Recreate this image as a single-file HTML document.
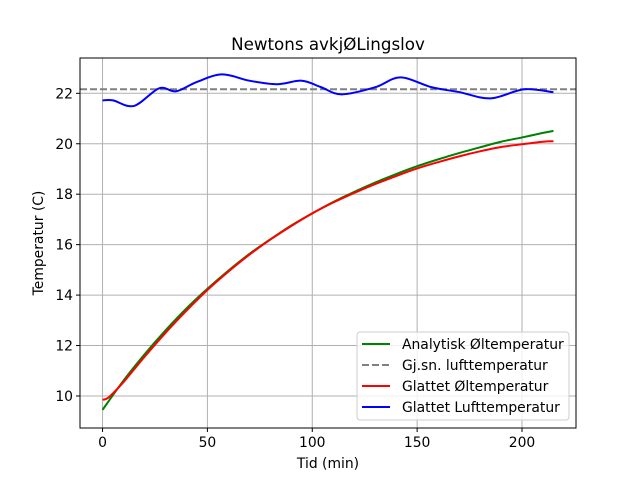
<!DOCTYPE html>
<html><head><meta charset="utf-8"><style>
body{margin:0;background:#fff}
svg text{font-family:"DejaVu Sans","Liberation Sans",sans-serif}
</style></head><body>
<svg id="chart" width="640" height="480" xmlns="http://www.w3.org/2000/svg">
<rect width="640" height="480" fill="#fff"/>
<g id="grid"></g>
<g id="series"></g>
<rect x="80" y="58" width="496" height="370" fill="none" stroke="#000" stroke-width="1"/>
<g id="ticks"></g>
<text x="328" y="50" text-anchor="middle" font-size="16.7">Newtons avkjØLingslov</text>
<text x="328" y="468" text-anchor="middle" font-size="13.9">Tid (min)</text>
<text x="43" y="243" text-anchor="middle" font-size="13.9" transform="rotate(-90 43 243)">Temperatur (C)</text>
<g>
<rect x="357" y="332" width="212" height="88" rx="3" fill="#fff" fill-opacity="0.8" stroke="#ccc"/>
<g><line x1="362" y1="344" x2="390" y2="344" stroke="green" stroke-width="2"/><text x="402" y="349" font-size="13.9">Analytisk Øltemperatur</text></g>
<g><line x1="362" y1="365" x2="390" y2="365" stroke="gray" stroke-width="2" stroke-dasharray="7,3"/><text x="402" y="370" font-size="13.9">Gj.sn. lufttemperatur</text></g>
<g><line x1="362" y1="386" x2="390" y2="386" stroke="red" stroke-width="2"/><text x="402" y="391" font-size="13.9">Glattet Øltemperatur</text></g>
<g><line x1="362" y1="407" x2="390" y2="407" stroke="blue" stroke-width="2"/><text x="402" y="412" font-size="13.9">Glattet Lufttemperatur</text></g>
</g>
</svg>
<script>
const xTicks=[0,50,100,150,200];
const yTicks=[10,12,14,16,18,20,22];
const curveT=[0,10,20,30,40,50,60,70,80,90,100,110,120,130,140,150,160,170,180,190,200,210,215];
const analytic=[9.45,10.61,11.65,12.60,13.47,14.25,14.97,15.63,16.21,16.76,17.24,17.69,18.09,18.46,18.80,19.11,19.38,19.63,19.86,20.08,20.25,20.43,20.51];
const redT=[0,3,10,20,30,40,50,60,70,80,90,100,110,120,130,140,150,160,170,180,190,200,210,215];
const redV=[9.85,9.95,10.55,11.55,12.5,13.38,14.2,14.93,15.6,16.2,16.74,17.24,17.67,18.05,18.4,18.72,19.02,19.27,19.5,19.7,19.87,19.98,20.08,20.1];
const blueT=[0,5,15,27,35,45,57,70,83,95,104,114,130,142,157,170,185,201,215];
const blueV=[21.72,21.72,21.5,22.2,22.08,22.45,22.75,22.5,22.36,22.5,22.25,21.96,22.24,22.63,22.24,22.05,21.8,22.16,22.04];
const meanAir=22.16;
const xMin=-10.75,xMax=225.75,yMin=8.73,yMax=23.4;
const L=80,R=576,T=58,B=428;
const sx=v=>L+(v-xMin)/(xMax-xMin)*(R-L);
const sy=v=>B-(v-yMin)/(yMax-yMin)*(B-T);
const NS="http://www.w3.org/2000/svg";
function mk(tag,attrs,parent){const e=document.createElementNS(NS,tag);for(const k in attrs)e.setAttribute(k,attrs[k]);document.getElementById(parent).appendChild(e);return e;}
xTicks.forEach(v=>{
 const g=mk('line',{x1:sx(v),x2:sx(v),y1:T,y2:B,stroke:'#b0b0b0','stroke-width':1},'grid');
 
 
 const t=mk('line',{x1:sx(v),x2:sx(v),y1:B,y2:B+4,stroke:'#000'},'ticks');
 
 
 const l=mk('text',{x:sx(v),y:B+19,'text-anchor':'middle','font-size':13.9},'ticks');l.textContent=v;
 
 
});
yTicks.forEach(v=>{
 const g=mk('line',{x1:L,x2:R,y1:sy(v),y2:sy(v),stroke:'#b0b0b0','stroke-width':1},'grid');
 
 
 const t=mk('line',{x1:L-4,x2:L,y1:sy(v),y2:sy(v),stroke:'#000'},'ticks');
 
 
 const l=mk('text',{x:L-7,y:sy(v)+5,'text-anchor':'end','font-size':13.9},'ticks');l.textContent=v;
 
 
});
function smooth(ts,vs){
 const p=ts.map((t,i)=>[sx(t),sy(vs[i])]);
 let d=`M${p[0][0]},${p[0][1]}`;
 for(let i=0;i<p.length-1;i++){
  const p0=p[Math.max(0,i-1)],p1=p[i],p2=p[i+1],p3=p[Math.min(p.length-1,i+2)];
  d+=` C${p1[0]+(p2[0]-p0[0])/6},${p1[1]+(p2[1]-p0[1])/6} ${p2[0]-(p3[0]-p1[0])/6},${p2[1]-(p3[1]-p1[1])/6} ${p2[0]},${p2[1]}`;
 }
 return d;
}
const g1=mk('path',{d:smooth(curveT,analytic),fill:'none',stroke:'green','stroke-width':2},'series');


const m=mk('line',{x1:L,x2:R,y1:sy(meanAir),y2:sy(meanAir),stroke:'gray','stroke-width':2,'stroke-dasharray':'7,3'},'series');


const r1=mk('path',{d:smooth(redT,redV),fill:'none',stroke:'red','stroke-width':2},'series');


const b1=mk('path',{d:smooth(blueT,blueV),fill:'none',stroke:'blue','stroke-width':2},'series');


</script>
</body></html>
